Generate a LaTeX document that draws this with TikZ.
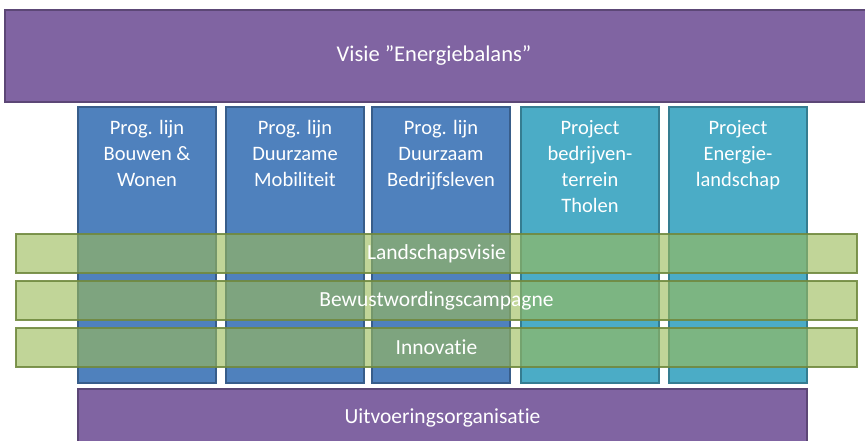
\documentclass[tikz,border=0pt]{standalone}
\usepackage{fontspec}
\setmainfont[RawFeature={-liga;-dlig;-calt}]{Carlito}
\definecolor{vpurple}{HTML}{8064A2}
\definecolor{vpurpleD}{HTML}{5C4776}
\definecolor{vblue}{HTML}{4F81BD}
\definecolor{vblueD}{HTML}{385D8A}
\definecolor{vteal}{HTML}{4BACC6}
\definecolor{vtealD}{HTML}{357D91}
\definecolor{vgreen}{HTML}{9BBB59}
\definecolor{vgreenD}{HTML}{71893F}
\begin{document}
\begin{tikzpicture}[x=1pt,y=-1pt,
  box/.style={line width=1.5pt, inner sep=0pt, outer sep=0pt, anchor=north west},
  purplebox/.style={box, fill=vpurple, draw=vpurpleD},
  bluebox/.style={box, fill=vblue, draw=vblueD, minimum width=138pt, minimum height=276pt},
  tealbox/.style={box, fill=vteal, draw=vtealD, minimum width=138pt, minimum height=276pt},
  band/.style={box, fill=vgreen, fill opacity=0.62, draw=vgreenD, draw opacity=0.9, minimum width=841pt, minimum height=39pt},
  coltxt/.style={anchor=north, align=center, inner sep=0pt, text=white, font=\fontsize{20.5}{26}\selectfont},
  bigtxt/.style={inner sep=0pt, text=white, font=\fontsize{21.5}{26}\selectfont},
]
\useasboundingbox (0,0) rectangle (865,441);
\clip (0,0) rectangle (865,441);
% top bar
\node[purplebox, minimum width=870pt, minimum height=92pt] (top) at (5,10) {};
\node[bigtxt, font=\fontsize{22.5}{26}\selectfont] (toptxt) at (434,56) {Visie ”Energiebalans”};
% columns
\node[bluebox] (c1) at (78,107) {};
\node[bluebox] (c2) at (226,107) {};
\node[bluebox] (c3) at (372,107) {};
\node[tealbox] (c4) at (521,107) {};
\node[tealbox] (c5) at (669,107) {};
\node[coltxt] (t1) at ([yshift=-13pt]c1.north) {Prog. lijn\\Bouwen \&\\Wonen};
\node[coltxt] (t2) at ([yshift=-13pt]c2.north) {Prog. lijn\\Duurzame\\Mobiliteit};
\node[coltxt] (t3) at ([yshift=-13pt]c3.north) {Prog. lijn\\Duurzaam\\Bedrijfsleven};
\node[coltxt] (t4) at ([yshift=-13pt]c4.north) {Project\\bedrijven-\\terrein\\Tholen};
\node[coltxt] (t5) at ([yshift=-13pt]c5.north) {Project\\Energie-\\landschap};
% bottom bar
\node[purplebox, minimum width=729pt, minimum height=60pt] (bot) at (78,389) {};
\node[bigtxt, anchor=base] (bottxt) at (442.5,423) {Uitvoeringsorganisatie};
% bands
\node[band] (b1) at (16,234) {};
\node[band] (b2) at (16,281) {};
\node[band] (b3) at (16,328) {};
\node[bigtxt] (b1t) at (b1.center) {Landschapsvisie};
\node[bigtxt] (b2t) at (b2.center) {Bewustwordingscampagne};
\node[bigtxt] (b3t) at (b3.center) {Innovatie};
\end{tikzpicture}
\end{document}
